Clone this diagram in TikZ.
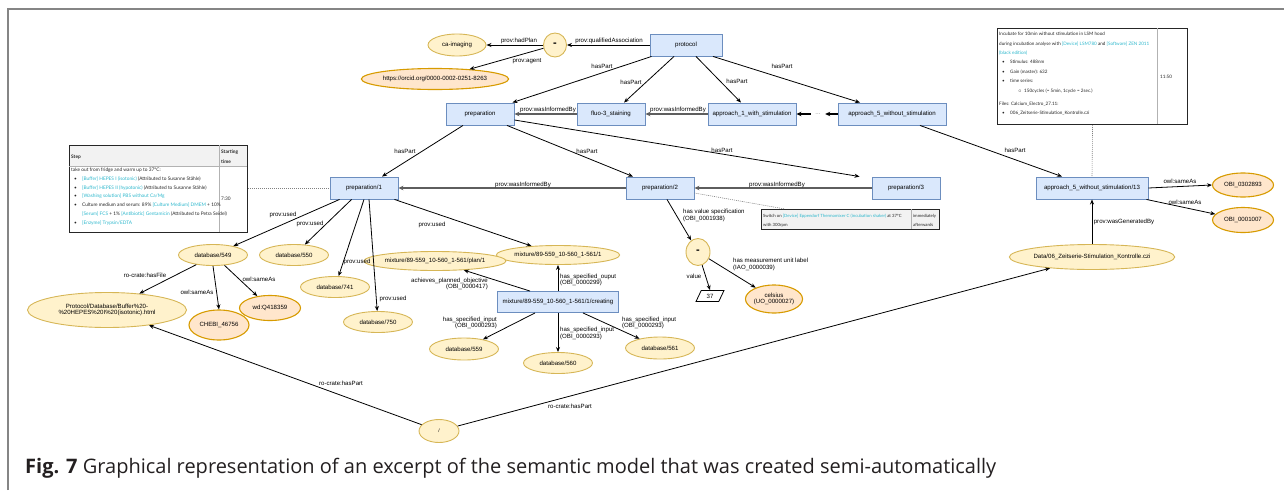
\documentclass[tikz,border=0pt]{standalone}
\usepackage{fontspec}
\setmainfont{Liberation Sans}
\newfontfamily\tabfont{Lato}
\newfontfamily\capfont{Open Sans}
\usetikzlibrary{arrows.meta,shapes.geometric,calc}
\definecolor{bluef}{HTML}{DAE8FC}
\definecolor{blued}{HTML}{6C8EBF}
\definecolor{yelf}{HTML}{FFF2CC}
\definecolor{yeld}{HTML}{D6B656}
\definecolor{oraf}{HTML}{FFE6CC}
\definecolor{orad}{HTML}{D79B00}
\definecolor{cyantxt}{HTML}{2DB7CC}
\definecolor{framegray}{HTML}{858585}
\definecolor{infogray}{HTML}{5E5E5E}
\definecolor{capcol}{HTML}{231F20}
\newcommand{\cyt}[1]{\textcolor{cyantxt}{#1}}
\newcommand{\bul}{\makebox[8pt][l]{\textbullet}}
\tikzset{
  nfont/.style={font=\fontsize{6.1}{6.8}\selectfont},
  rbox/.style={nfont, draw=blued, fill=bluef, line width=0.9pt, inner sep=0pt, minimum height=22pt},
  yell/.style={nfont, ellipse, draw=yeld, fill=yelf, line width=0.9pt, inner sep=0pt, align=center},
  oell/.style={nfont, ellipse, draw=orad, fill=oraf, line width=1.1pt, inner sep=0pt, align=center},
  blank/.style={yell, font=\fontsize{11}{11}\selectfont\bfseries},
  arr/.style={draw=black, line width=0.8pt, -{Stealth[length=5pt,width=4pt]}},
  inf/.style={draw=infogray, line width=1.6pt, -{Stealth[length=5pt,width=4.5pt]}},
  thk/.style={draw=black, line width=1.4pt, -{Stealth[length=5pt,width=4.5pt]}},
  lbl/.style={nfont, inner sep=0pt, text=black},
  lbll/.style={lbl, align=left, anchor=west},
  lblr/.style={lbl, align=right, anchor=east},
  dotl/.style={draw=gray, line width=0.6pt, dash pattern=on 1pt off 1pt},
  tabframe/.style={draw=black!85, line width=1.1pt, inner sep=0pt, anchor=north west},
  tt/.style={font=\tabfont\fontsize{4.3}{5}\selectfont, inner sep=0pt, anchor=west, text=black!85},
  ttl/.style={tt, font=\tabfont\fontsize{4.8}{5}\selectfont},
  ttr/.style={tt, font=\tabfont\fontsize{4.6}{5}\selectfont},
}
\begin{document}
\begin{tikzpicture}[x=1pt,y=-1pt]
\useasboundingbox (0,0) rectangle (1284,490);
% frame
\draw[framegray, line width=2pt] (8,490) -- (8,9) -- (1284,9);

% ---------- nodes ----------
\node[rbox, minimum width=72pt] (protocol) at (686,45) {protocol};
\node[blank, minimum width=23pt, minimum height=24pt] (circ1) at (555,45) {\raisebox{-2.5pt}{-}};
\node[yell, minimum width=58pt, minimum height=22pt] (caim) at (457,45) {ca-imaging};
\node[oell, minimum width=120pt, minimum height=21pt] (orcid) at (435,79) {https://orcid.org/0000-0002-0251-8263};

\node[rbox, minimum width=68pt] (preparation) at (480,114) {preparation};
\node[rbox, minimum width=68pt] (fluo) at (611,114) {fluo-3\_staining};
\node[rbox, minimum width=88pt] (ap1) at (752,114) {approach\_1\_with\_stimulation};
\node[nfont, text=gray, inner sep=0pt, minimum width=14pt] (dots) at (818,114) {...};
\node[rbox, minimum width=108pt] (ap5) at (892,114) {approach\_5\_without\_stimulation};

\node[rbox, minimum width=68pt] (prep1) at (364,188) {preparation/1};
\node[rbox, minimum width=68pt] (prep2) at (660,188) {preparation/2};
\node[rbox, minimum width=68pt] (prep3) at (906,188) {preparation/3};
\node[rbox, minimum width=112pt] (a5t) at (1092,188) {approach\_5\_without\_stimulation/13};
\node[oell, minimum width=61pt, minimum height=24pt] (obi1) at (1243,185) {OBI\_0302893};
\node[oell, minimum width=61pt, minimum height=25pt] (obi2) at (1243,220) {OBI\_0001007};
\node[yell, minimum width=159pt, minimum height=25pt] (data) at (1092,257) {Data/06\_Zeitserie-Stimulation\_Kontrolle.czi};

\node[yell, minimum width=69pt, minimum height=21pt] (db549) at (213,255) {database/549};
\node[yell, minimum width=69pt, minimum height=21pt] (db550) at (294,255) {database/550};
\node[yell, minimum width=69pt, minimum height=21pt] (db741) at (335,287) {database/741};
\node[yell, minimum width=69pt, minimum height=21pt] (db750) at (378,322) {database/750};
\node[yell, minimum width=159pt, minimum height=35pt] (proto) at (107,310) {Protocol/Database/Buffer\%20-\\\%20HEPES\%20I\%20(isotonic).html};
\node[oell, minimum width=60pt, minimum height=30pt] (chebi) at (219,325) {CHEBI\_46756};
\node[oell, minimum width=61pt, minimum height=25pt] (wd) at (270,308) {wd:Q418359};

\node[yell, minimum width=109pt, minimum height=19pt] (mix1) at (558,255) {mixture/89-559\_10-560\_1-561/1};
\node[yell, minimum width=106pt, minimum height=19pt] (plan1) at (435,261) {mixture/89-559\_10-560\_1-561/plan/1};
\node[rbox, minimum width=121pt, minimum height=21pt] (creating) at (558,302) {mixture/89-559\_10-560\_1-561/1/creating};
\node[yell, minimum width=69pt, minimum height=22pt] (db559) at (464,349) {database/559};
\node[yell, minimum width=69pt, minimum height=21pt] (db560) at (558,363) {database/560};
\node[yell, minimum width=69pt, minimum height=22pt] (db561) at (660,348) {database/561};

\node[blank, minimum width=24pt, minimum height=27pt] (circ2) at (698,252) {\raisebox{-2.5pt}{-}};
\node[nfont, trapezium, trapezium left angle=65, trapezium right angle=115, draw=black, fill=white, line width=0.8pt, inner sep=0pt, minimum width=28pt, minimum height=11pt, trapezium stretches=true] (n37) at (710,296) {37};
\node[oell, minimum width=54pt, minimum height=28pt] (celsius) at (774,299) {celsius\\(UO\_0000027)};

\node[yell, minimum width=40pt, minimum height=23pt, font=\fontsize{5}{5}\selectfont] (slash) at (439,431) {/};

% ---------- tables ----------
% left table
\fill[gray!10] (69,145) rectangle (247,166);
\node[tabframe, minimum width=178pt, minimum height=87pt] (tabL) at (69,145) {};
\draw[gray!60, line width=0.5pt] (219,145) -- (219,232);
\draw[gray!60, line width=0.5pt] (69,166) -- (247,166);
\node[ttl] (tL1) at (71,157) {\bfseries Step};
\node[ttl] (tL2) at (221,152) {\bfseries Starting};
\node[ttl] (tL3) at (221,162) {\bfseries time};
\node[ttl] (tL4) at (71,170) {take out from fridge and warm up to 37°C:};
\node[ttl] (tL5) at (74,179) {\bul\cyt{[Buffer] HEPES I (isotonic)} (Attributed to Susanne Stähle)};
\node[ttl] (tL6) at (74,188) {\bul\cyt{[Buffer] HEPES II (hypotonic)} (Attributed to Susanne Stähle)};
\node[ttl] (tL7) at (74,196) {\bul\cyt{[Washing solution] PBS without Ca/Mg}};
\node[ttl] (tL8) at (74,205) {\bul Culture medium and serum: 89\% \cyt{[Culture Medium] DMEM} + 10\%};
\node[ttl] (tL9) at (82,214) {\cyt{[Serum] FCS} + 1\% \cyt{[Antibiotic] Gentamicin} (Attributed to Petra Seidel)};
\node[ttl] (tL10) at (74,223) {\bul\cyt{[Enzyme] Trypsin/EDTA}};
\node[ttl] (tL11) at (221,199) {7:30};

% right table
\node[tabframe, minimum width=190pt, minimum height=96pt] (tabR) at (997,28) {};
\draw[gray!60, line width=0.6pt] (1157,28) -- (1157,124);
\node[ttr] (tR1) at (999,34) {Incubate for 10min without stimulation in LSM hood};
\node[ttr] (tR2) at (999,44) {during incubation analyse with \cyt{[Device] LSM780} and \cyt{[Software] ZEN 2011}};
\node[ttr] (tR3) at (999,53) {\cyt{(black edition)}};
\node[ttr] (tR4) at (1002,62) {\bul Stimulus: 488nm};
\node[ttr] (tR5) at (1002,72) {\bul Gain (master): 632};
\node[ttr] (tR6) at (1002,81) {\bul time series:};
\node[ttr] (tR7) at (1018,91) {\makebox[6pt][l]{$\circ$}150cycles (= 5min, 1cycle = 2sec.)};
\node[ttr] (tR8) at (999,104) {Files: Calcium\_Electro\_27.11:};
\node[ttr] (tR9) at (1002,113) {\bul 006\_Zeitserie-Stimulation\_Kontrolle.czi};
\node[ttr] (tR10) at (1160,77) {11:50};

% middle table
\fill[gray!10] (761,209) rectangle (939,229);
\node[tabframe, minimum width=178pt, minimum height=20pt] (tabM) at (761,209) {};
\draw[gray!60, line width=0.5pt] (911,209) -- (911,229);
\node[tt] (tM1) at (763,216) {Switch on \cyt{[Device] Eppendorf Thermomixer C (incubation shaker)} at 37°C};
\node[tt] (tM2) at (763,225) {with 300rpm};
\node[tt] (tM3) at (913,216) {immediately};
\node[tt] (tM4) at (913,225) {afterwards};

% dotted links to tables
\draw[dotl] (tabL.east |- prep1.west) -- (prep1.west);
\draw[dotl] (tabR.south) -- (a5t.north);
\draw[dotl] ([yshift=-5pt]prep2.east) -- ([xshift=24pt]tabM.north west);

% ---------- edges ----------
\draw[arr] (protocol) -- (circ1);
\draw[arr] (circ1) -- (caim);
\draw[arr] (circ1) -- (orcid);
\draw[arr] ([xshift=2pt]protocol.south west) -- ([xshift=-2pt]preparation.north east);
\draw[arr] ([xshift=-12pt]protocol.south) -- ([xshift=13pt]fluo.north);
\draw[arr] ([xshift=10pt]protocol.south) -- ([xshift=-11pt]ap1.north);
\draw[arr] ([xshift=27pt]protocol.south) -- ([xshift=-32pt]ap5.north);
\draw[inf] (fluo) -- (preparation);
\draw[inf] (ap1) -- (fluo);
\draw[thk] (ap5) -- (dots);
\draw[thk] (dots) -- (ap1);

\draw[arr] ([xshift=-17pt]preparation.south) -- ([xshift=18pt]prep1.north);
\draw[arr] ([xshift=27pt]preparation.south) -- ([xshift=-27pt]prep2.north);
\draw[arr] ([yshift=-6pt]preparation.east) -- ([xshift=-12pt]prep3.north west);
\draw[inf] (prep2) -- (prep1);
\draw[inf] (prep3) -- (prep2);

\draw[arr] ([xshift=28pt]ap5.south) -- ([xshift=-30pt]a5t.north);
\draw[arr] (a5t.east) -- (obi1.west);
\draw[arr] ([xshift=-2pt]a5t.south east) -- (obi2.168);
\draw[arr] (data.north) -- (a5t.south);
\draw[arr] (slash) -- (data);
\draw[arr] (slash) -- (proto);

\draw[arr] ([xshift=10pt]prep1.south west) -- (db549);
\draw[arr] ([xshift=22pt]prep1.south west) -- (db550);
\draw[arr] (prep1.south) -- (db741);
\draw[arr] ([xshift=5pt]prep1.south) -- (db750);
\draw[arr] ([xshift=-4pt]prep1.south east) -- (mix1);

\draw[arr] (db549.210) -- (proto);
\draw[arr] (db549.south) -- (chebi.north);
\draw[arr] (db549.-42) -- (wd);

\draw[arr] (creating.north) -- (mix1.south);
\draw[arr] ([xshift=-28pt]creating.north) -- (plan1);
\draw[arr] ([xshift=-23pt]creating.south) -- (db559);
\draw[arr] (creating.south) -- (db560.north);
\draw[arr] ([xshift=25pt]creating.south) -- (db561);

\draw[arr] ([xshift=7pt]prep2.south) -- (circ2);
\draw[arr] (circ2) -- (n37.north);
\draw[arr] (circ2) -- (celsius);

% ---------- edge labels ----------
\node[lbl] (l1) at (609,41) {prov:qualifiedAssociation};
\node[lbl] (l2) at (519,41) {prov:hadPlan};
\node[lbl] (l3) at (527,61) {prov:agent};
\node[lbl] (l4) at (602,66) {hasPart};
\node[lbl] (l5) at (631,82) {hasPart};
\node[lbl] (l6) at (737,81) {hasPart};
\node[lbl] (l7) at (782,66) {hasPart};
\node[lbl] (l8) at (548,110) {prov:wasInformedBy};
\node[lbl] (l9) at (678,110) {prov:wasInformedBy};
\node[lbl] (l11) at (405,151) {hasPart};
\node[lbl] (l12) at (587,151) {hasPart};
\node[lbl] (l13) at (722,150) {hasPart};
\node[lbl] (l14) at (523,185) {prov:wasInformedBy};
\node[lbl] (l15) at (777,185) {prov:wasInformedBy};
\node[lbl] (l16) at (1015,150) {hasPart};
\node[lbl] (l17) at (1180,181) {owl:sameAs};
\node[lbl] (l18) at (1185,202) {owl:sameAs};
\node[lbl] (l19) at (1124,222) {prov:wasGeneratedBy};
\node[lbl] (l20) at (570,406) {ro-crate:hasPart};
\node[lbl] (l21) at (341,383) {ro-crate:hasPart};
\node[lbl] (l22) at (283,215) {prov:used};
\node[lbl] (l23) at (310,224) {prov:used};
\node[lbl] (l24) at (357,262) {prov:used};
\node[lbl] (l25) at (393,299) {prov:used};
\node[lbl] (l26) at (432,225) {prov:used};
\node[lbl] (l27) at (145,275) {ro-crate:hasFile};
\node[lbl] (l28) at (197,292) {owl:sameAs};
\node[lbl] (l29) at (259,279) {owl:sameAs};
\node[lbll] (l30) at (560,280) {has\_specified\_ouput\\(OBI\_0000299)};
\node[lblr] (l31) at (488,284) {achieves\_planned\_objective\\(OBI\_0000417)};
\node[lblr] (l32) at (497,323) {has\_specified\_input\\(OBI\_0000293)};
\node[lbll] (l33) at (560,333.5) {has\_specified\_input\\(OBI\_0000293)};
\node[lbll] (l34) at (622,323) {has\_specified\_input\\(OBI\_0000293)};
\node[lbll] (l35) at (683,215.5) {has value specification\\(OBI\_0001938)};
\node[lbl] (l36) at (694,276) {value};
\node[lbll] (l37) at (733,264.5) {has measurement unit label\\(IAO\_0000039)};

% ---------- caption ----------
\node[anchor=base west, inner sep=0pt, text=capcol, font=\capfont\fontsize{20}{21}\selectfont] (cap) at (25,473) {\textbf{Fig. 7} Graphical representation of an excerpt of the semantic model that was created semi-automatically};
\end{tikzpicture}
\end{document}
